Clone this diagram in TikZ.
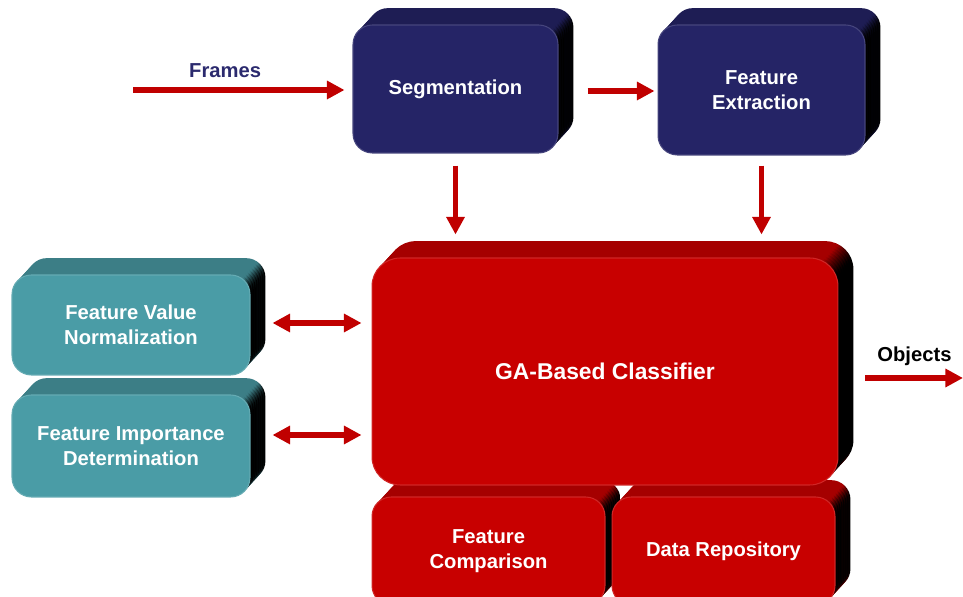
\documentclass[tikz,border=0pt]{standalone}
\usepackage{fontspec}
\setmainfont{Liberation Sans}
\usepackage{xcolor}
\usepackage{tikz}
\usetikzlibrary{arrows.meta,positioning,calc,shadows}
\definecolor{navyface}{RGB}{37,36,102}
\definecolor{navyback}{RGB}{30,29,84}
\definecolor{tealface}{RGB}{74,156,166}
\definecolor{tealback}{RGB}{60,126,134}
\definecolor{redface}{RGB}{200,0,0}
\definecolor{redback}{RGB}{165,0,0}
\definecolor{arrowred}{RGB}{192,0,0}
\definecolor{labelnavy}{RGB}{43,42,110}
\pgfdeclarehorizontalshading{navyside}{100bp}{color(0bp)=(navyback); color(73.2bp)=(navyback); color(74.6bp)=(black); color(100bp)=(black)}
\pgfdeclarehorizontalshading{tealside}{100bp}{color(0bp)=(tealback); color(73.2bp)=(tealback); color(74.6bp)=(black); color(100bp)=(black)}
\pgfdeclarehorizontalshading{redside}{100bp}{color(0bp)=(redback); color(73.2bp)=(redback); color(74.6bp)=(black); color(100bp)=(black)}

\begin{document}
\begin{tikzpicture}[
    x=0.02cm, y=-0.02cm,
    font=\bfseries\fontsize{11.5}{14.5}\selectfont,
    slab/.style n args={3}{general shadow={shadow xshift=#1, shadow yshift=#2, shading=#3side}},
    block/.style={rounded corners=11pt, align=center, text=white,
        slab={8.8pt}{9.6pt}{#1}, slab={7.7pt}{8.4pt}{#1},
        slab={6.6pt}{7.2pt}{#1}, slab={5.5pt}{6pt}{#1},
        slab={4.4pt}{4.8pt}{#1}, slab={3.3pt}{3.6pt}{#1},
        slab={2.2pt}{2.4pt}{#1}, slab={1.1pt}{1.2pt}{#1},
        fill=#1face, draw=#1face!85!white, line width=0.6pt},
    arrow/.style={-{Triangle[length=10pt,width=10pt]}, line width=3pt, draw=arrowred},
    dblarrow/.style={{Triangle[length=10pt,width=10pt]}-{Triangle[length=10pt,width=10pt]}, line width=3pt, draw=arrowred}
]
\clip (0,0) rectangle (963,597);

% Top row
\node[block=navy, minimum width=4.1cm, minimum height=2.56cm] (seg) at (455.5,89) {Segmentation};
\node[block=navy, minimum width=4.14cm, minimum height=2.6cm] (fext) at (761.5,90) {Feature\\Extraction};

% Classifier parts (behind the classifier)
\node[block=red, minimum width=4.66cm, minimum height=2.16cm] (fcomp) at (488.5,551) {Feature\\Comparison};
\node[block=red, minimum width=4.46cm, minimum height=2.16cm] (repo) at (723.5,551) {Data Repository};
\node[block=red, rounded corners=16pt, minimum width=9.32cm, minimum height=4.54cm,
      font=\bfseries\fontsize{13}{16}\selectfont] (ga) at (605,371.5) {GA-Based Classifier};

% Left side
\node[block=teal, minimum width=4.76cm, minimum height=2.0cm] (fvn) at (131,325) {Feature Value\\Normalization};
\node[block=teal, minimum width=4.76cm, minimum height=2.04cm] (fid) at (131,446) {Feature Importance\\Determination};

% Free ends
\coordinate (fin) at (133,90);
\coordinate (obj) at (963,378);

\draw[arrow, shorten >=0.16cm] (fin) -- node[above=2pt, pos=0.42, text=labelnavy] {Frames} (fin -| seg.west);
\draw[arrow, shorten <=0.58cm, shorten >=0.06cm] (seg.east |- 0,91) -- (fext.west |- 0,91);
\draw[arrow, shorten <=0.24cm, shorten >=0.46cm] (seg.south) -- (seg.south |- ga.north);
\draw[arrow, shorten <=0.2cm, shorten >=0.46cm] (fext.south) -- (fext.south |- ga.north);
\draw[dblarrow, shorten <=0.44cm, shorten >=0.2cm] (fvn.east |- 0,323) -- (ga.west |- 0,323);
\draw[dblarrow, shorten <=0.44cm, shorten >=0.2cm] (fid.east |- 0,435) -- (ga.west |- 0,435);
\draw[arrow, shorten <=0.54cm] (ga.east |- obj) -- node[above=2pt, pos=0.61, text=black] {Objects} (obj);

\end{tikzpicture}
\end{document}
